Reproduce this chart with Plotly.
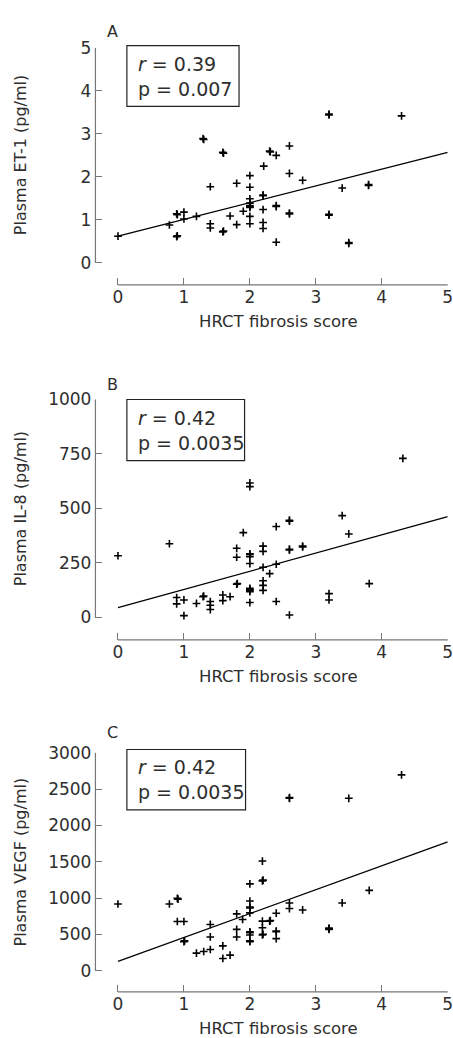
import plotly.graph_objects as go

# ---------------- data ----------------
# Panel A: ET-1
a_x = [0, 0.78, 0.89, 0.9, 0.89, 0.9, 1.0, 1.0, 1.19, 1.29, 1.3, 1.4, 1.4, 1.4,
       1.59, 1.6, 1.59, 1.6, 1.7, 1.8, 1.8, 1.9, 2.0, 2.0, 2.0, 2.0, 2.0, 2.0, 2.0, 2.0, 2.0,
       2.21, 2.2, 2.2, 2.2, 2.2, 2.2, 2.3, 2.31, 2.4, 2.4, 2.4, 2.4,
       2.6, 2.6, 2.6, 2.6, 2.8, 3.2, 3.2, 3.2, 3.2, 3.4, 3.5, 3.5, 3.8, 3.8, 4.3]
a_y = [0.62, 0.88, 1.14, 1.12, 0.61, 0.63, 1.18, 1.02, 1.08, 2.89, 2.87, 1.77, 0.91, 0.81,
       2.57, 2.55, 0.72, 0.74, 1.09, 1.85, 0.89, 1.2, 2.03, 1.76, 1.49, 1.39, 1.31, 1.29, 1.33, 1.08, 0.91,
       2.25, 1.56, 1.58, 1.24, 0.94, 0.80, 2.6, 2.58, 2.5, 1.31, 1.33, 0.48,
       2.72, 2.08, 1.14, 1.16, 1.92, 3.46, 3.44, 1.11, 1.13, 1.74, 0.45, 0.47, 1.8, 1.82, 3.42]

# Panel B: IL-8
b_x = [0, 0.78, 0.89, 0.89, 1.0, 1.0, 1.19, 1.29, 1.3, 1.4, 1.4, 1.4, 1.59, 1.59, 1.7,
       1.8, 1.8, 1.8, 1.81, 1.9, 2.0, 2.0, 2.0, 2.0, 2.0, 2.0, 2.0, 2.0, 2.0, 2.0, 2.0,
       2.2, 2.2, 2.2, 2.2, 2.2, 2.2, 2.3, 2.4, 2.4, 2.4,
       2.6, 2.6, 2.6, 2.6, 2.6, 2.8, 2.8, 3.2, 3.2, 3.4, 3.5, 3.81, 4.32]
b_y = [283, 338, 91, 62, 80, 8, 64, 95, 98, 73, 56, 36, 103, 77, 95,
       317, 276, 152, 155, 389, 617, 600, 289, 292, 279, 247, 129, 133, 124, 118, 68,
       327, 303, 230, 168, 147, 124, 201, 417, 244, 73,
       442, 446, 309, 313, 11, 323, 327, 109, 80, 467, 383, 155, 730]

# Panel C: VEGF
c_x = [0, 0.78, 0.9, 0.91, 0.9, 1.0, 1.0, 1.01, 1.19, 1.3, 1.4, 1.4, 1.4, 1.59, 1.59, 1.7,
       1.8, 1.8, 1.8, 1.89, 2.0, 2.0, 2.0, 2.0, 2.0, 2.0, 2.0, 2.0, 2.0, 2.0,
       2.19, 2.19, 2.2, 2.19, 2.19, 2.19, 2.2, 2.3, 2.31, 2.4, 2.4, 2.4, 2.4,
       2.6, 2.6, 2.6, 2.6, 2.8, 3.2, 3.2, 3.2, 3.4, 3.5, 3.81, 4.3]
c_y = [918, 918, 995, 985, 677, 677, 400, 410, 241, 264, 636, 464, 291, 341, 168, 214,
       782, 568, 464, 705, 1195, 959, 864, 875, 795, 523, 535, 491, 400, 410,
       1509, 1236, 1246, 682, 591, 491, 501, 682, 690, 791, 536, 546, 441,
       2373, 2383, 932, 855, 836, 577, 587, 567, 932, 2373, 1105, 2695]

# regression lines
fit_x = [0, 5]
a_fit = [0.62, 2.57]
b_fit = [45, 462]
c_fit = [127, 1773]

y_titles = ["Plasma ET-1 (pg/ml)", "Plasma IL-8 (pg/ml)", "Plasma VEGF (pg/ml)"]
x_title = "HRCT fibrosis score"
panel_letters = ["A", "B", "C"]
stats = [("0.39", "0.007"), ("0.42", "0.0035"), ("0.42", "0.0035")]
y_max = [5, 1000, 3000]
y_ticks = [[0, 1, 2, 3, 4, 5],
           [0, 250, 500, 750, 1000],
           [0, 500, 1000, 1500, 2000, 2500, 3000]]
x_max = 5
x_ticks = [0, 1, 2, 3, 4, 5]

# ---------------- layout geometry (pixels) ----------------
W, H = 453, 1038
FONT = "DejaVu Sans"
TXT = "#2e2e2e"
AX = "#777777"

X0_PX, X5_PX, YLINE_PX = 119.3, 452.7, 96.5
# (px of y=0, px of y=max, px of x-axis line, letter y, box top, box bottom, box right)
panels = [
    (255.3, 38.3, 277.6, 21.7, 36.0, 97.3, 241.7),
    (613.3, 393.3, 636.0, 378.0, 393.3, 455.0, 247.3),
    (970.0, 750.0, 991.5, 730.0, 746.7, 807.7, 248.3),
]
XTITLE_OFF = 36.5

def fx(p):
    return p / W

def fy(p):
    return 1 - p / H

x_per = (X5_PX - X0_PX) / x_max
x_lo = -(X0_PX - YLINE_PX) / x_per

fig = go.Figure()
data = [(a_x, a_y, a_fit), (b_x, b_y, b_fit), (c_x, c_y, c_fit)]
shapes = []
annotations = []
for i, (xs, ys, fit) in enumerate(data):
    sfx = "" if i == 0 else str(i + 1)
    xr, yr = "x" + sfx, "y" + sfx
    y0, ytop, xline, ylet, btop, bbot, bright = panels[i]
    y_per = (y0 - ytop) / y_max[i]
    y_lo = -(xline - y0) / y_per

    fig.add_trace(go.Scatter(
        x=fit_x, y=fit, mode="lines",
        line=dict(color="black", width=1.3),
        xaxis=xr, yaxis=yr, showlegend=False, hoverinfo="skip"))
    fig.add_trace(go.Scatter(
        x=xs, y=ys, mode="markers",
        marker=dict(symbol="cross-thin", size=5.5, line=dict(color="black", width=1.6)),
        xaxis=xr, yaxis=yr, showlegend=False, cliponaxis=False))

    fig.layout["xaxis" + sfx] = dict(
        domain=[fx(YLINE_PX), fx(X5_PX)], range=[x_lo, x_max], anchor=yr,
        tickvals=x_ticks, ticks="inside", ticklen=7, tickwidth=1, tickcolor=AX,
        showline=False, showgrid=False, zeroline=False, ticklabeloverflow="allow",
        tickfont=dict(family=FONT, size=17, color=TXT),
    )
    fig.layout["yaxis" + sfx] = dict(
        domain=[fy(xline), fy(ytop)], range=[y_lo, y_max[i]], anchor=xr,
        tickvals=y_ticks[i], ticks="inside", ticklen=7, tickwidth=1, tickcolor=AX,
        showline=False, showgrid=False, zeroline=False, ticklabelstandoff=3,
        tickfont=dict(family=FONT, size=17, color=TXT),
    )
    # detached axis lines (paper coordinates, not clipped)
    shapes.append(dict(type="line", xref="paper", yref="paper",
                       x0=fx(X0_PX), x1=fx(X5_PX), y0=fy(xline), y1=fy(xline),
                       line=dict(color=AX, width=1.2), layer="above"))
    shapes.append(dict(type="line", xref="paper", yref="paper",
                       x0=fx(YLINE_PX), x1=fx(YLINE_PX), y0=fy(y0), y1=fy(ytop),
                       line=dict(color=AX, width=1.2), layer="above"))
    # stats box
    shapes.append(dict(
        type="rect", xref="paper", yref="paper",
        x0=fx(128.3), x1=fx(bright), y0=fy(bbot), y1=fy(btop),
        line=dict(color="#222222", width=1.2), fillcolor="rgba(0,0,0,0)"))
    r, p = stats[i]
    annotations.append(dict(
        text="<i>r</i> = " + r + "<br>p = " + p, xref="paper", yref="paper",
        x=fx(137.5), y=fy((btop + bbot) / 2), xanchor="left", yanchor="middle",
        align="left", showarrow=False,
        font=dict(family=FONT, size=19, color=TXT)))
    # panel letter
    annotations.append(dict(
        text=panel_letters[i], xref="paper", yref="paper",
        x=fx(113.5), y=fy(ylet), xanchor="center", yanchor="middle",
        showarrow=False, font=dict(family=FONT, size=16, color=TXT)))
    # y title
    annotations.append(dict(
        text=y_titles[i], xref="paper", yref="paper", textangle=-90,
        x=fx(21), y=fy((y0 + ytop) / 2), xanchor="center", yanchor="middle",
        showarrow=False, font=dict(family=FONT, size=16, color=TXT)))
    # x title
    annotations.append(dict(
        text=x_title, xref="paper", yref="paper",
        x=fx(282), y=fy(xline + XTITLE_OFF), xanchor="center", yanchor="middle",
        showarrow=False, font=dict(family=FONT, size=16.5, color=TXT)))

fig.update_layout(
    width=W, height=H, margin=dict(l=0, r=0, t=0, b=0),
    paper_bgcolor="white", plot_bgcolor="white",
    shapes=shapes, annotations=annotations,
)
fig.write_html(
    "out.html", config={"displayModeBar": False},
    post_script=("document.body.style.margin='0';"
                 "document.body.style.overflow='hidden';"
                 "document.documentElement.style.overflow='hidden';"))
